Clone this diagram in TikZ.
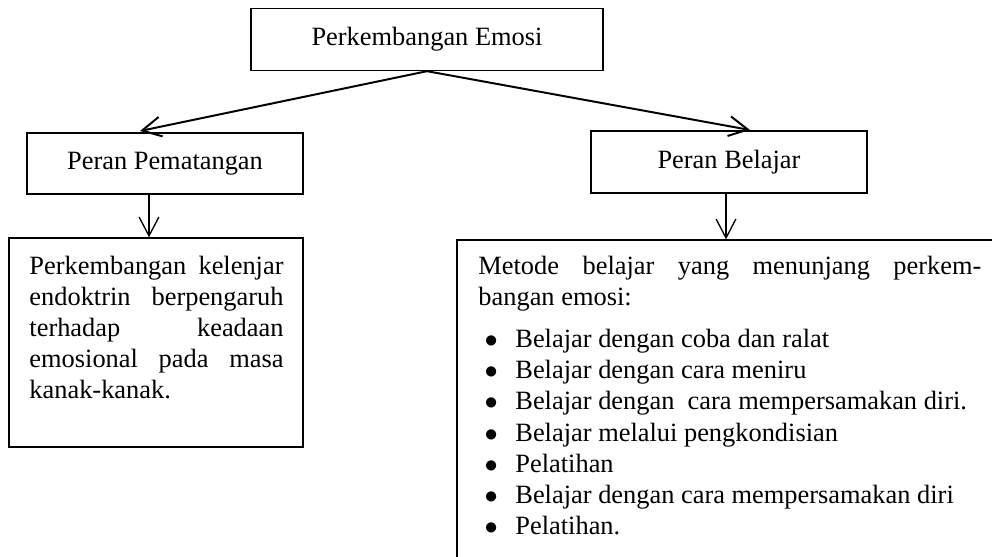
\documentclass[tikz,border=0pt]{standalone}
\usepackage{fontspec}
\setmainfont{Liberation Serif}
\usetikzlibrary{arrows.meta}
\hbadness=10000
\newcommand{\butir}[1]{\par\noindent\hspace*{2.8pt}\makebox[14pt][l]{$\bullet$}#1}
\begin{document}
\begin{tikzpicture}[x=0.4545pt,y=-0.4545pt,
    font=\fontsize{12pt}{14.2pt}\selectfont,
    kotak/.style={draw,line width=0.6pt,inner sep=0pt},
    teks/.style={anchor=base west,inner sep=0pt,align=justify},
    panah/.style={-{Straight Barb[length=8.6pt,width=9pt]},line width=0.9pt},
    turun/.style={-{Straight Barb[length=8.6pt,width=9pt]},line width=0.6pt}]
  \useasboundingbox (0,0) rectangle (992,557);
  \clip (0,0) rectangle (992,557);
  \node[kotak,minimum width=160pt,minimum height=28.2pt] (emosi) at (427,39.5) {Perkembangan Emosi};
  \node[kotak,minimum width=125.4pt,minimum height=27.7pt] (matang) at (165,163.5) {Peran Pematangan};
  \node[kotak,minimum width=125.4pt,minimum height=28.2pt] (belajar) at (729,162) {Peran Belajar};
  \node[kotak,minimum width=133.6pt,minimum height=95pt] (isiKiri) at (156,342.5) {};
  \node[kotak,minimum width=251.3pt,minimum height=163.6pt] (isiKanan) at (733.5,420) {};
  \node[teks,text width=115.5pt] (teksKiri) at (29,274)
    {Perkembangan kelenjar\linebreak endoktrin berpengaruh\linebreak terhadap keadaan\linebreak emosional pada masa\linebreak kanak-kanak.};
  \node[teks,text width=228.6pt] (teksKanan) at (478,274)
    {Metode belajar yang menunjang perkem-\linebreak bangan emosi:\par\vspace{5pt}
     \butir{Belajar dengan coba dan ralat}
     \butir{Belajar dengan cara meniru}
     \butir{Belajar dengan\ \ cara mempersamakan diri.}
     \butir{Belajar melalui pengkondisian}
     \butir{Pelatihan}
     \butir{Belajar dengan cara mempersamakan diri}
     \butir{Pelatihan.}};
  \coordinate (ujungKiri) at (140,131);
  \coordinate (ujungKanan) at (750,130);
  \coordinate (turunKiri) at (149,0);
  \coordinate (turunKanan) at (726,0);
  \draw[panah] (emosi.south) -- (ujungKiri);
  \draw[panah] (emosi.south) -- (ujungKanan);
  \draw[turun] (matang.south -| turunKiri) -- (isiKiri.north -| turunKiri);
  \draw[turun] (belajar.south -| turunKanan) -- (isiKanan.north -| turunKanan);
\end{tikzpicture}
\end{document}
